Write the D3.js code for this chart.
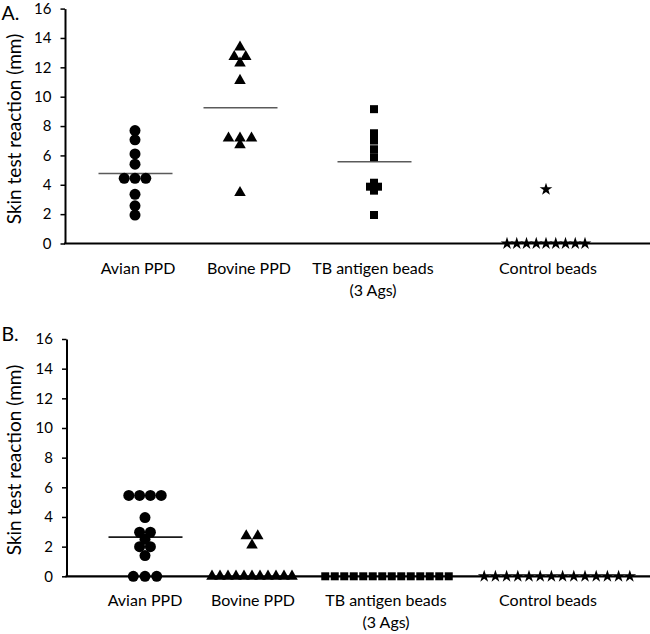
<!DOCTYPE html>
<html>
<head>
<meta charset="utf-8">
<script src="https://cdn.jsdelivr.net/npm/d3@7"></script>
<style>
  html, body { margin: 0; padding: 0; background: #fff; }
  svg { display: block; font-family: Lato, "Open Sans", sans-serif; }
</style>
</head>
<body>
<svg id="chart" width="650" height="634"></svg>
<script>
// ---------------- DATA ----------------
const categories = ["Avian PPD", "Bovine PPD", "TB antigen beads", "Control beads"];
const categorySublabels = ["", "", "(3 Ags)", ""];
const yTickValues = [0, 2, 4, 6, 8, 10, 12, 14, 16];
const panelLabels = ["A.", "B."];
const yTitle = "Skin test reaction (mm)";

// Panel A values (mm)
const avianA   = [7.69, 7.06, 6.10, 5.40, 4.44, 4.44, 4.44, 3.35, 2.57, 1.94];
const bovineA  = [13.37, 12.73, 12.73, 12.28, 11.10, 7.17, 7.17, 7.17, 6.71, 3.46];
const tbA      = [9.15, 7.51, 7.01, 6.42, 5.88, 4.14, 3.87, 3.87, 3.60, 1.94];
const controlA = [3.69, 0, 0, 0, 0, 0, 0, 0, 0, 0];
const meansA   = [4.77, 9.25, 5.57, null];

// Panel B values (mm)
const avianB   = [5.45, 5.45, 5.45, 5.45, 3.96, 2.97, 2.97, 2.50, 2.00, 2.00, 1.40, 0, 0, 0];
const bovineB  = [2.72, 2.72, 2.10, 0, 0, 0, 0, 0, 0, 0, 0, 0, 0, 0];
const tbB      = [0, 0, 0, 0, 0, 0, 0, 0, 0, 0, 0, 0, 0, 0];
const controlB = [0, 0, 0, 0, 0, 0, 0, 0, 0, 0, 0, 0, 0, 0];
const meansB   = [2.64, null, null, null];

// ---------------- LAYOUT ----------------
const W = 650;
const panels = [
  { label: panelLabels[0], series: [avianA, bovineA, tbA, controlA], means: meansA,
    axisX: 65, yBottom: 243.5, yTop: 8.6, titleY: 129,
    pointX: [135, 240, 374, 546], labelX: [138, 249, 373, 548],
    rowSpacing: [10.8, 11.5, 8, 9.75], meanColor: "#5a5a5a", labelBaseline: 19.5 },
  { label: panelLabels[1], series: [avianB, bovineB, tbB, controlB], means: meansB,
    axisX: 66.5, yBottom: 576.3, yTop: 339, titleY: 460,
    pointX: [145, 252, 387, 557], labelX: [145, 253, 386, 548],
    rowSpacing: [11.7, 8, 9.5, 11.2], meanColor: "#1a1a1a", labelBaseline: 341 }
];
const tieSpacing = [10.8, 11.5, 8, 11];
const symbolTypes = [d3.symbolCircle, d3.symbolTriangle, d3.symbolSquare, d3.symbolStar];
const symbolSizes = [95, 58, 64, 50];

const svg = d3.select("#chart");

panels.forEach((p, pi) => {
  const g = svg.append("g");
  const y = d3.scaleLinear().domain([0, 16]).range([p.yBottom, p.yTop]);
  const x = d3.scaleOrdinal().domain(categories).range(p.pointX);
  const xl = d3.scaleOrdinal().domain(categories).range(p.labelX);

  // panel letter
  g.append("text").attr("x", 1.5).attr("y", p.labelBaseline)
    .attr("font-size", 19.5).attr("fill", "#000").text(p.label);

  // y title
  g.append("text")
    .attr("transform", `translate(20.5,${p.titleY}) rotate(-90)`)
    .attr("text-anchor", "middle").attr("font-size", 19).attr("fill", "#000")
    .text(yTitle);

  // y axis
  const yAxis = d3.axisLeft(y).tickValues(yTickValues).tickSize(4.5).tickPadding(9).tickSizeOuter(0);
  const ya = g.append("g").attr("transform", `translate(${p.axisX},0)`).call(yAxis);
  ya.select(".domain").attr("stroke", "#000").attr("stroke-width", 2);
  ya.selectAll(".tick line").attr("stroke", "#000").attr("stroke-width", 1.5);
  ya.selectAll(".tick text").attr("font-size", 15).attr("fill", "#000")
    .attr("font-family", "Lato, sans-serif");

  // x axis line
  g.append("line").attr("x1", p.axisX - 1).attr("x2", W)
    .attr("y1", y(0)).attr("y2", y(0)).attr("stroke", "#000").attr("stroke-width", 2.2);

  // category labels
  categories.forEach((c, ci) => {
    g.append("text").attr("x", xl(c)).attr("y", y(0) + 30)
      .attr("text-anchor", "middle").attr("font-size", 16).attr("fill", "#000").text(c);
    if (categorySublabels[ci]) {
      g.append("text").attr("x", xl(c)).attr("y", y(0) + 52)
        .attr("text-anchor", "middle").attr("font-size", 16).attr("fill", "#000")
        .text(categorySublabels[ci]);
    }
  });

  // mean lines
  p.means.forEach((m, ci) => {
    if (m == null) return;
    const cx = x(categories[ci]);
    g.append("line").attr("x1", cx - 36.5).attr("x2", cx + 37.5)
      .attr("y1", y(m)).attr("y2", y(m))
      .attr("stroke", p.meanColor).attr("stroke-width", 1.6);
  });

  // points, dodged horizontally when values tie
  p.series.forEach((vals, ci) => {
    const groups = d3.group(vals.map((v, i) => ({ v, i })), d => d.v);
    const pts = [];
    groups.forEach(arr => {
      const n = arr.length;
      const sp = n > 4 ? p.rowSpacing[ci] : (n === 3 && ci === 0 && pi === 1 ? p.rowSpacing[ci] : tieSpacing[ci]);
      arr.forEach((d, k) => pts.push({ v: d.v, dx: (k - (n - 1) / 2) * sp }));
    });
    const sym = d3.symbol().type(symbolTypes[ci]).size(symbolSizes[ci]);
    g.append("g").selectAll("path").data(pts).join("path")
      .attr("d", sym)
      .attr("transform", d => `translate(${x(categories[ci]) + d.dx},${y(d.v)})`)
      .attr("fill", "#000");
  });
});
</script>
</body>
</html>
